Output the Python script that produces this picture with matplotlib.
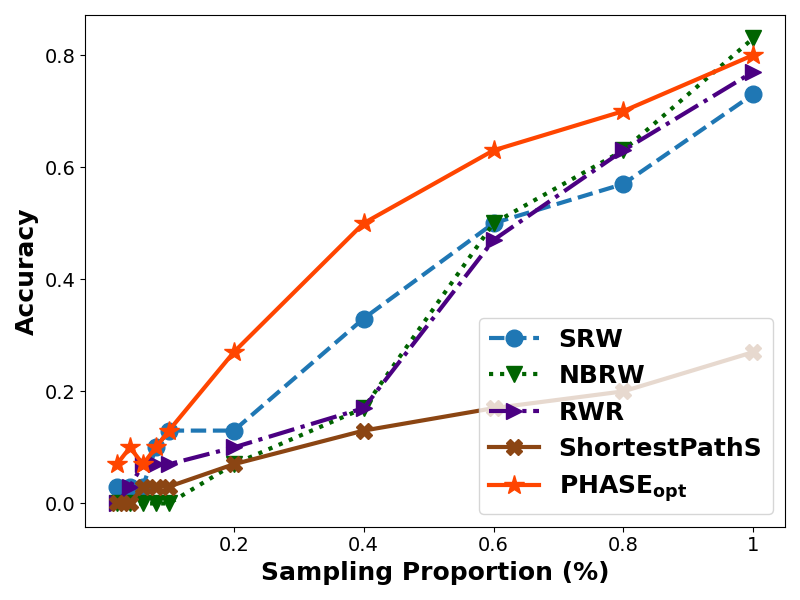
import numpy as np
import matplotlib
matplotlib.use("Agg")
import matplotlib.pyplot as plt

x = [0.02, 0.04, 0.06, 0.08, 0.1, 0.2, 0.4, 0.6, 0.8, 1.0]
srw = [0.03, 0.03, 0.03, 0.10, 0.13, 0.13, 0.33, 0.50, 0.57, 0.73]
nbrw = [0.0, 0.0, 0.0, 0.0, 0.0, 0.07, 0.17, 0.50, 0.63, 0.83]
rwr = [0.0, 0.03, 0.07, 0.07, 0.07, 0.10, 0.17, 0.47, 0.63, 0.77]
sps = [0.0, 0.0, 0.03, 0.03, 0.03, 0.07, 0.13, 0.17, 0.20, 0.27]
phase = [0.07, 0.10, 0.07, 0.10, 0.13, 0.27, 0.50, 0.63, 0.70, 0.80]

xticks = [0.2, 0.4, 0.6, 0.8, 1.0]
xticklabels = ['0.2', '0.4', '0.6', '0.8', '1']

fig = plt.figure(figsize=(8, 6), dpi=100)
fig.set_facecolor('white')

plt.plot(x, srw, '--', marker='o', color='#1f77b4', lw=3, ms=12, label='SRW')
plt.plot(x, nbrw, ':', marker='v', color='darkgreen', lw=3, ms=12, label='NBRW')
plt.plot(x, rwr, '-.', marker='>', color='indigo', lw=3, ms=12, label='RWR')
plt.plot(x, sps, '-', marker='X', color='saddlebrown', lw=3, ms=12, label='ShortestPathS')
plt.plot(x, phase, '-', marker='*', color='orangered', lw=3, ms=15, label=r'PHASE$_{\mathbf{opt}}$')

plt.xticks(xticks, xticklabels, fontsize=14)
plt.yticks(fontsize=14)
plt.xlabel('Sampling Proportion (%)', fontsize=18, fontweight='bold')
plt.ylabel('Accuracy', fontsize=18, fontweight='bold')
plt.legend(loc='lower right', prop={'size': 18, 'weight': 'bold'})
plt.tight_layout()
plt.savefig('out.png')
